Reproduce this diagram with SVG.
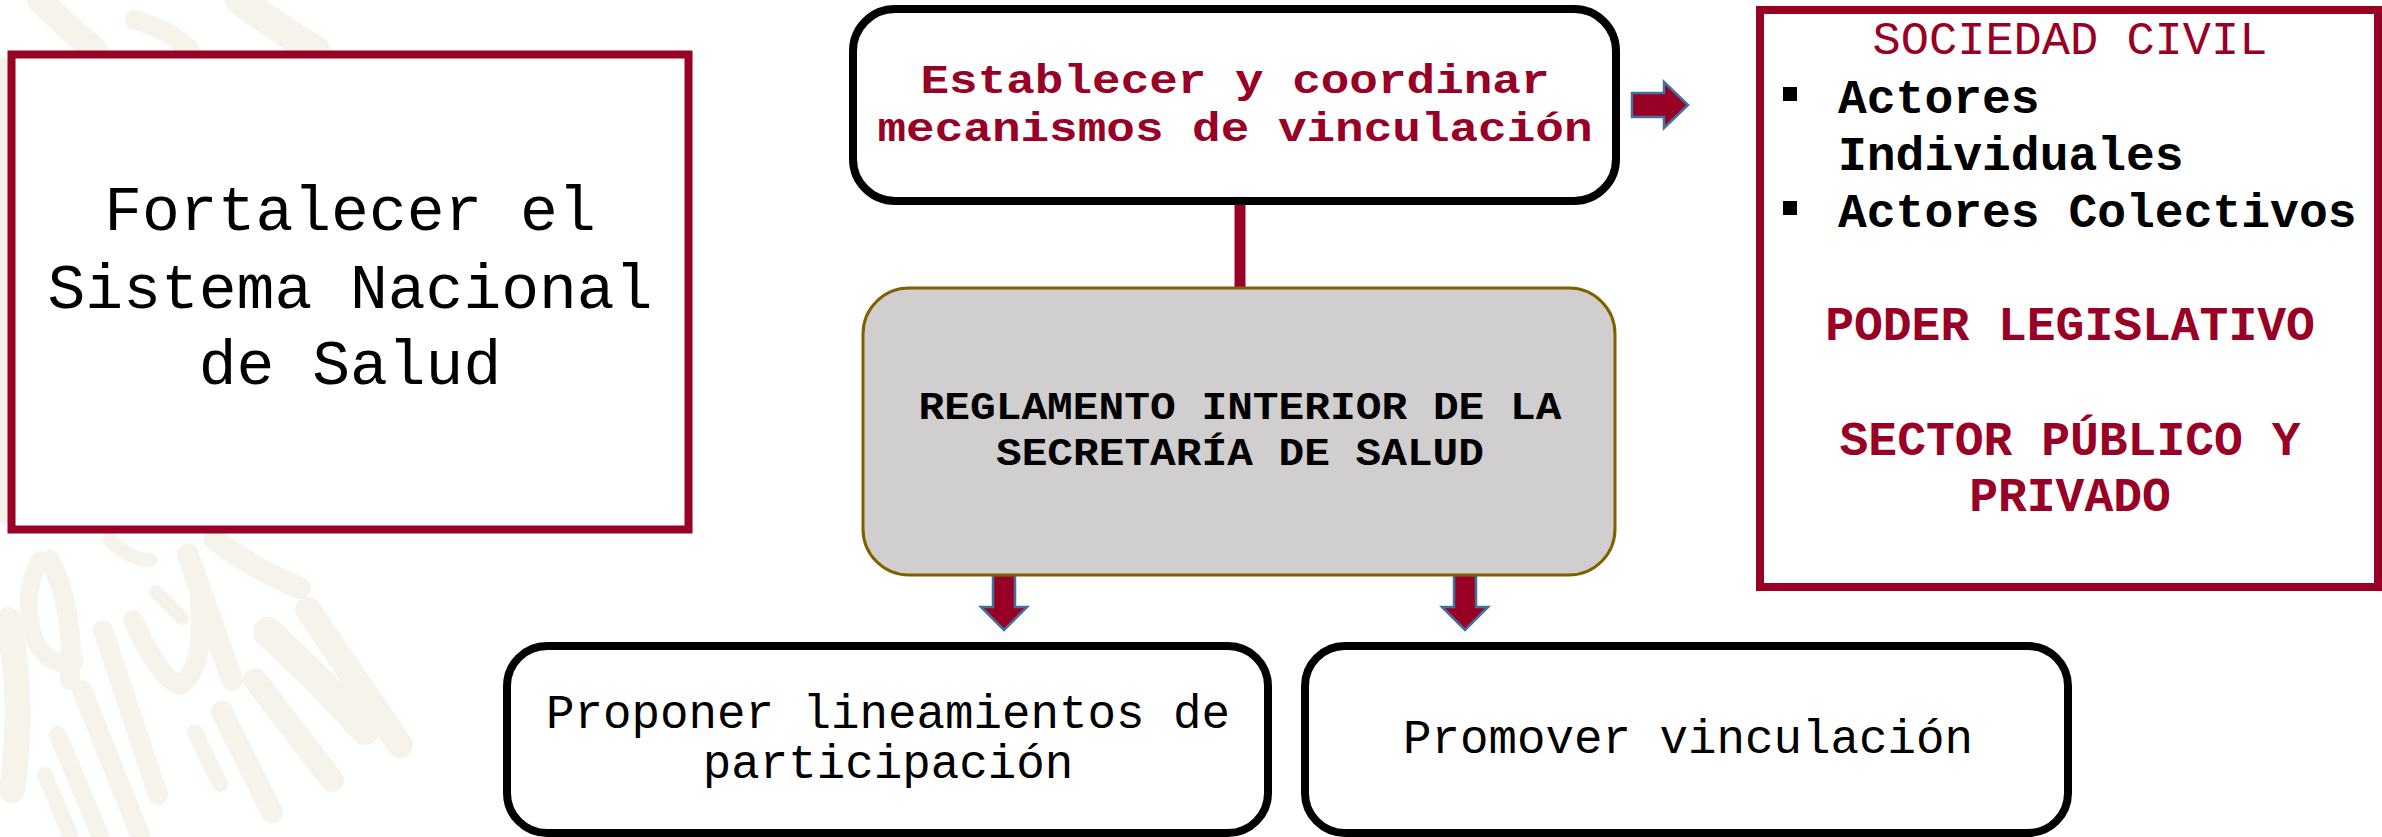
<svg xmlns="http://www.w3.org/2000/svg" width="2382" height="837" viewBox="0 0 2382 837">
<style>
.mono{font-family:"Courier New","Nimbus Mono PS","Nimbus Mono L","FreeMono","Liberation Mono",monospace;}
.b{font-weight:bold;}
.red{fill:#990025;}
.blk{fill:#000000;}
.mid{text-anchor:middle;}
.rbox{fill:#ffffff;stroke:#990025;stroke-width:8;}
.kbox{fill:#ffffff;stroke:#000000;stroke-width:8;}
.gbox{fill:#D0CECE;stroke:#7F6000;stroke-width:3;}
.arr{fill:#990025;stroke:#41719C;stroke-width:2.5;stroke-linejoin:miter;}
.wm{fill:none;stroke:#F6F3EA;stroke-linecap:round;}
</style>
<rect x="0" y="0" width="2382" height="837" fill="#ffffff"/>
<g id="watermark" class="wm">
<path d="M40 0 Q70 30 95 50" stroke-width="26"/>
<path d="M135 20 Q170 30 190 50" stroke-width="20"/>
<path d="M240 0 Q280 30 315 50" stroke-width="30"/>
<path d="M4 60 L4 520" stroke-width="8"/>
<path d="M40 560 Q20 600 35 640 Q50 670 75 660" stroke-width="18"/>
<path d="M50 560 Q75 610 70 680" stroke-width="20"/>
<path d="M8 620 Q25 700 12 790" stroke-width="26"/>
<path d="M103 630 L158 795" stroke-width="20"/>
<path d="M82 690 L140 835" stroke-width="20"/>
<path d="M58 735 L100 835" stroke-width="18"/>
<path d="M45 775 L70 835" stroke-width="16"/>
<path d="M133 620 Q160 680 180 685 Q205 670 200 600" stroke-width="20"/>
<path d="M188 555 L232 680" stroke-width="22"/>
<path d="M156 592 L182 618" stroke-width="14"/>
<path d="M195 732 L220 784" stroke-width="16"/>
<path d="M222 712 L272 812" stroke-width="22"/>
<path d="M255 680 L332 780" stroke-width="24"/>
<path d="M268 632 Q330 690 365 730" stroke-width="30"/>
<path d="M308 610 L400 745" stroke-width="26"/>
<path d="M215 540 Q255 570 300 588" stroke-width="22"/>
<path d="M110 540 Q130 560 150 560" stroke-width="14"/>
</g>
<g id="connectors">
<line x1="1240" y1="201" x2="1240" y2="288" stroke="#990025" stroke-width="11"/>
<polygon class="arr" points="1632,93 1664,93 1664,82 1688,105 1664,128 1664,117 1632,117"/>
<polygon class="arr" points="993,575 1015,575 1015,607 1027,607 1004,630 981,607 993,607"/>
<polygon class="arr" points="1454,575 1476,575 1476,607 1488,607 1465,630 1442,607 1454,607"/>
</g>
<g id="node-fortalecer">
<rect class="rbox" x="11.5" y="54.5" width="677" height="475"/>
<text class="mono blk mid" font-size="63"><tspan x="350" y="230">Fortalecer el</tspan><tspan x="350" y="308">Sistema Nacional</tspan><tspan x="350" y="384">de Salud</tspan></text>
</g>
<g id="node-establecer">
<rect class="kbox" x="853" y="9" width="763" height="192" rx="42" ry="42"/>
<text class="mono b red mid" font-size="41" x="1235" y="93" textLength="629" lengthAdjust="spacingAndGlyphs">Establecer y coordinar</text>
<text class="mono b red mid" font-size="41" x="1235" y="141" textLength="715" lengthAdjust="spacingAndGlyphs">mecanismos de vinculación</text>
</g>
<g id="node-reglamento">
<rect class="gbox" x="863" y="288" width="752" height="287" rx="46" ry="46"/>
<text class="mono b blk mid" font-size="38" x="1240" y="419" textLength="643" lengthAdjust="spacingAndGlyphs">REGLAMENTO INTERIOR DE LA</text>
<text class="mono b blk mid" font-size="38" x="1240" y="465" textLength="488" lengthAdjust="spacingAndGlyphs">SECRETARÍA DE SALUD</text>
</g>
<g id="node-sociedad">
<rect class="rbox" x="1760" y="10" width="618" height="577"/>
<text class="mono red mid" font-size="47" x="2070" y="54">SOCIEDAD CIVIL</text>
<rect x="1783" y="87" width="14" height="14" fill="#000000"/>
<rect x="1783" y="201" width="14" height="14" fill="#000000"/>
<text class="mono b blk" font-size="48"><tspan x="1838" y="113">Actores</tspan><tspan x="1838" y="170">Individuales</tspan><tspan x="1838" y="227">Actores Colectivos</tspan></text>
<text class="mono b red mid" font-size="48" x="2070" y="340">PODER LEGISLATIVO</text>
<text class="mono b red mid" font-size="48"><tspan x="2070" y="455">SECTOR PÚBLICO Y</tspan><tspan x="2070" y="511">PRIVADO</tspan></text>
</g>
<g id="node-proponer">
<rect class="kbox" x="507" y="646" width="761" height="187" rx="40" ry="40"/>
<text class="mono blk mid" font-size="47.5"><tspan x="888" y="728">Proponer lineamientos de</tspan><tspan x="888" y="778">participación</tspan></text>
</g>
<g id="node-promover">
<rect class="kbox" x="1305" y="646" width="763" height="187" rx="40" ry="40"/>
<text class="mono blk mid" font-size="47.5" x="1688" y="753">Promover vinculación</text>
</g>
</svg>
